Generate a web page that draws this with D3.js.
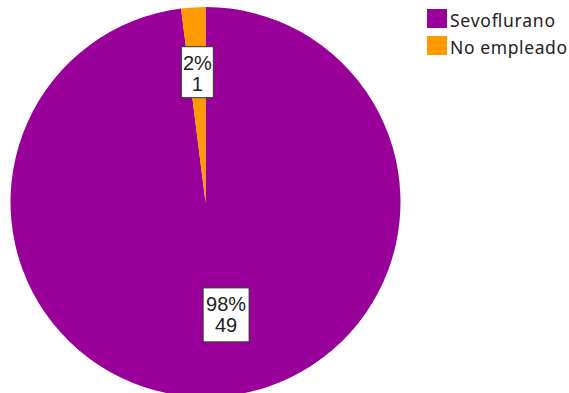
<!DOCTYPE html>
<html><head><meta charset="utf-8">
<script src="https://cdn.jsdelivr.net/npm/d3@7"></script>
<style>body{margin:0;background:#fff;}svg{display:block;}</style>
</head><body>
<svg id="c" width="569" height="393"></svg>
<script>
const categories = ["Sevoflurano", "No empleado"];
const values = [49, 1];
const percentLabels = ["98%", "2%"];
const colors = ["#990099", "#FF9900"];

const svg = d3.select("#c");
const cx = 205.5, cy = 202, r = 195;
const pie = d3.pie().sort(null).value(d => d)(values);
const arc = d3.arc().innerRadius(0).outerRadius(r);
const g = svg.append("g").attr("transform", `translate(${cx},${cy})`);
g.selectAll("path").data(pie).join("path")
  .attr("d", arc).attr("fill", (d,i) => colors[i]);

// label placement along bisector plus small shift
const labelR = [0.58, 0.667];
const labelShift = [13.5, 0];
const boxW = [46, 32], boxH = [54, 51];
pie.forEach((d,i) => {
  const a = (d.startAngle + d.endAngle)/2;
  const x = Math.sin(a) * r * labelR[i] + labelShift[i];
  const y = -Math.cos(a) * r * labelR[i];
  const lg = g.append("g").attr("transform", `translate(${x},${y})`);
  const lines = [percentLabels[i], String(values[i])];
  const w = boxW[i], h = boxH[i];
  lg.append("rect").attr("x", -w/2).attr("y", -h/2).attr("width", w).attr("height", h)
    .attr("fill", "#fff").attr("stroke", "#333").attr("stroke-width", 1);
  lines.forEach((t, k) => {
    lg.append("text").attr("x", 0).attr("y", -h/2 + 23 + k*21)
      .attr("text-anchor", "middle")
      .attr("font-family", "Liberation Sans, Arial, sans-serif").attr("font-size", 20)
      .attr("fill", "#222").text(t);
  });
});

// legend
const legendLen = [105, 117];
const leg = svg.append("g").attr("transform", "translate(427,9)");
categories.forEach((c,i) => {
  const row = leg.append("g").attr("transform", `translate(0,${i*27})`);
  row.append("rect").attr("width", 20).attr("height", 19).attr("fill", colors[i]);
  row.append("text").attr("x", 23).attr("y", 18)
    .attr("font-family", "Noto Sans, sans-serif").attr("font-size", 17.5)
    .attr("textLength", legendLen[i]).attr("lengthAdjust", "spacing")
    .attr("fill", "#222").text(c);
});
</script>
</body></html>
